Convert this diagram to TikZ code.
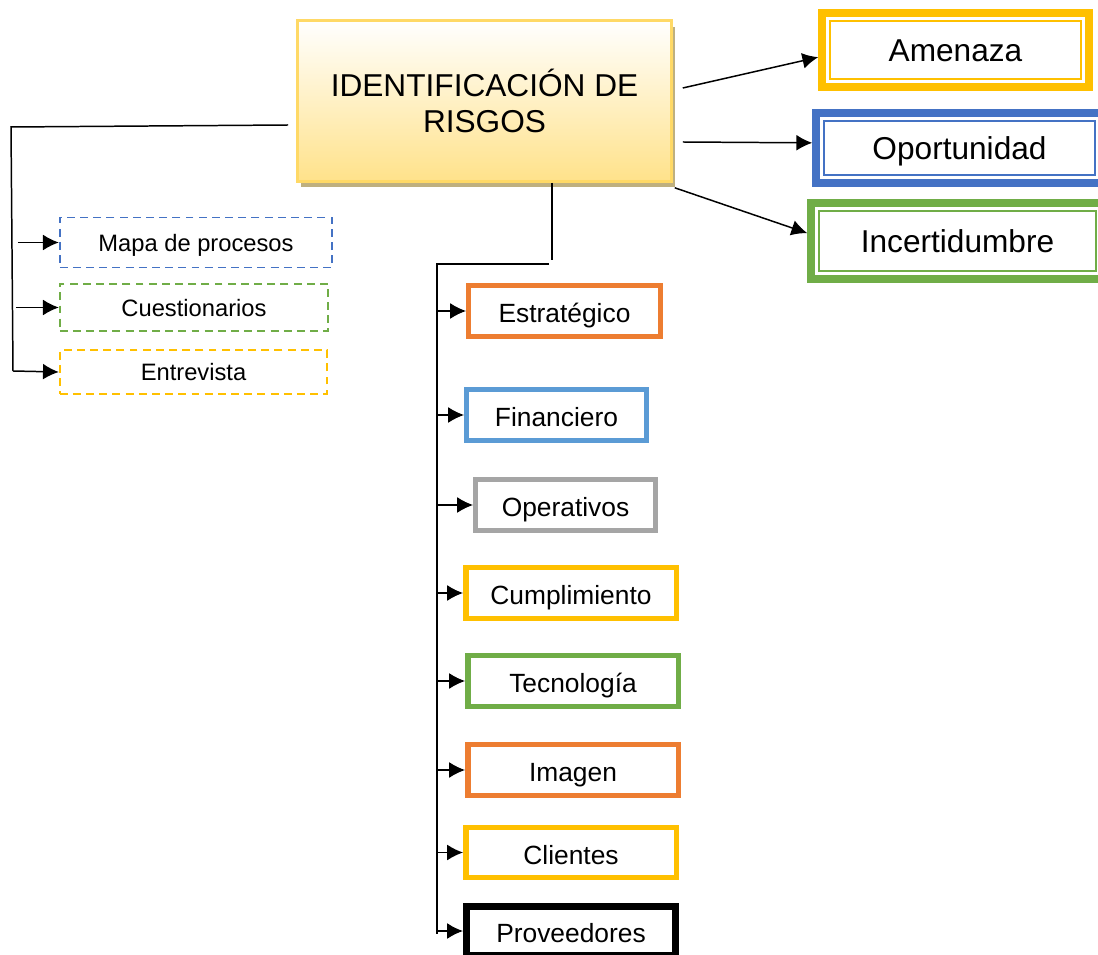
\documentclass[tikz,border=0pt]{standalone}
\usepackage{fontspec}
\setmainfont{Liberation Sans}
\usetikzlibrary{arrows.meta,shadows}
\definecolor{amarillo}{HTML}{FFC000}
\definecolor{azul}{HTML}{4472C4}
\definecolor{verde}{HTML}{70AD47}
\definecolor{naranja}{HTML}{ED7D31}
\definecolor{celeste}{HTML}{5B9BD5}
\definecolor{gris}{HTML}{A5A5A5}
\definecolor{borde}{HTML}{FFD966}
\definecolor{fondo}{HTML}{FFE28A}
\definecolor{sombra}{HTML}{BFB07F}
\begin{document}
\begin{tikzpicture}[x=0.02cm,y=-0.02cm]
	\useasboundingbox (0,0) rectangle (1098,955);
	\tikzstyle{flecha}=[-{Latex[length=9pt,width=9pt]},line width=0.85pt]
	\tikzstyle{linea}=[line width=0.85pt]
	\tikzstyle{principal}=[draw=borde,line width=1.5pt,top color=white,bottom color=fondo,
		minimum width=7.48cm,minimum height=3.22cm,align=center,
		font=\fontsize{18pt}{20.4pt}\selectfont,
		drop shadow={shadow xshift=0.07cm,shadow yshift=-0.12cm,fill=sombra,opacity=1}]
	\tikzstyle{alerta}=[line width=4.3pt,fill=white,font=\fontsize{18pt}{21pt}\selectfont,
		text height=13pt,text depth=0pt]
	\tikzstyle{metodo}=[dash pattern=on 4.5pt off 3pt,line width=1.1pt,
		font=\fontsize{13.5pt}{16pt}\selectfont,text height=10pt,text depth=0pt]
	\tikzstyle{tipo}=[line width=3.1pt,minimum height=1.01cm,
		font=\fontsize{15pt}{18pt}\selectfont,text height=13.6pt,text depth=0pt]

	\node[principal] (ident) at (484.5,101) {IDENTIFICACIÓN DE\\RISGOS};

	\node[alerta,draw=amarillo,minimum width=5.34cm,minimum height=1.48cm] (amen) at (955.5,50) {Amenaza};
	\node[alerta,draw=azul,minimum width=5.74cm,minimum height=1.4cm] (opor) at (959.5,148) {Oportunidad};
	\node[alerta,draw=verde,minimum width=5.86cm,minimum height=1.52cm] (inc) at (957.5,241) {Incertidumbre};
	\foreach \n/\c in {amen/amarillo,opor/azul,inc/verde}
		\draw[\c,line width=1.2pt] ([shift={(12,12)}]\n.north west) rectangle ([shift={(-12,-12)}]\n.south east);

	\node[metodo,draw=azul,minimum width=5.45cm,minimum height=1cm] (mapa) at (196,242.5) {Mapa de procesos};
	\node[metodo,draw=verde,minimum width=5.37cm,minimum height=0.95cm] (cues) at (194,307.5) {Cuestionarios};
	\node[metodo,draw=amarillo,minimum width=5.35cm,minimum height=0.87cm] (entre) at (193.5,372) {Entrevista};

	\node[tipo,draw=naranja,minimum width=3.83cm] (estr) at (564.5,311) {Estratégico};
	\node[tipo,draw=celeste,minimum width=3.59cm] (fin) at (556.5,415) {Financiero};
	\node[tipo,draw=gris,minimum width=3.59cm] (oper) at (565.5,505) {Operativos};
	\node[tipo,draw=amarillo,minimum width=4.21cm] (cump) at (571,593) {Cumplimiento};
	\node[tipo,draw=verde,minimum width=4.21cm] (tec) at (573,681) {Tecnología};
	\node[tipo,draw=naranja,minimum width=4.21cm] (ima) at (573,770) {Imagen};
	\node[tipo,draw=amarillo,minimum width=4.21cm] (cli) at (571,852.5) {Clientes};
	\node[tipo,draw=black,line width=4pt,minimum width=4.18cm,minimum height=0.98cm] (prov) at (571,931) {Proveedores};

	% rama derecha
	\draw[flecha] ([shift={(10,-13)}]ident.east) -- (amen.183);
	\draw[flecha] ([shift={(10,41)}]ident.east) -- (opor.178);
	\draw[flecha] ([shift={(2,5)}]ident.south east) -- (inc.177);

	% rama izquierda
	\coordinate (i1) at (11,127);
	\coordinate (i2) at (13,371);
	\draw[linea] ([shift={(-8,24)}]ident.west) -- (i1) -- (i2);
	\draw[flecha] (i2) -- (entre.west);
	\draw[flecha] ([shift={(-41,0)}]mapa.west) -- (mapa.west);
	\draw[flecha] ([shift={(-43,0)}]cues.west) -- (cues.west);

	% rama central
	\coordinate (c1) at (552,260);
	\coordinate (c2) at (549,264);
	\coordinate (c3) at (437,264);
	\coordinate (c4) at (437,934);
	\draw[linea] (ident.south -| c1) -- (c1);
	\draw[linea] (c2) -- (c3) -- (c4);
	\foreach \n in {estr,fin,oper,cump,tec,ima,cli,prov}
		\draw[flecha] (c3 |- \n.west) -- (\n.west);
\end{tikzpicture}
\end{document}
